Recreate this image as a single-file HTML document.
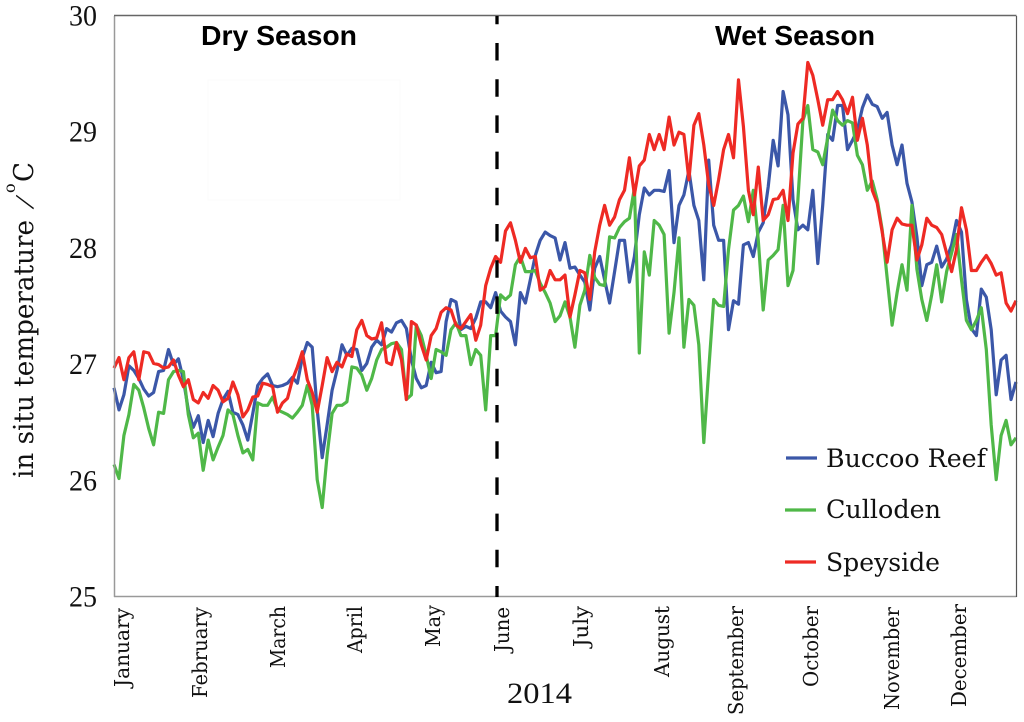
<!DOCTYPE html>
<html lang="en">
<head>
<meta charset="utf-8">
<title>In situ temperature 2014</title>
<style>
html,body{margin:0;padding:0;background:#fff;}
svg{display:block;}
text{fill:#111;}
.serif{font-family:"DejaVu Serif","Liberation Serif",serif;}
.tick{font-family:"Liberation Serif",serif;font-size:29.5px;}
.season{font-family:"Liberation Sans",sans-serif;font-weight:bold;font-size:28px;fill:#000;}
</style>
</head>
<body>
<svg id="chart" width="1024" height="722" viewBox="0 0 1024 722" xmlns="http://www.w3.org/2000/svg">
  <rect x="0" y="0" width="1024" height="722" fill="#fff"/>
  <rect x="208" y="80" width="192" height="120" fill="none" stroke="#fbfbfb" stroke-width="1"/>
  <g id="series-layer"></g>
  <path d="M114.5 597V16" stroke="#999" stroke-width="1.5" fill="none"/>
  <path d="M114 596.5H1016.5" stroke="#999" stroke-width="1.5" fill="none"/>
  <path d="M114 15.5H1016.5" stroke="#666" stroke-width="1.5" fill="none"/>
  <path d="M1016.5 16V597" stroke="#555" stroke-width="1.2" fill="none"/>
  <line x1="497" y1="16" x2="497" y2="597" stroke="#000" stroke-width="3.3" stroke-dasharray="17.5 18.7" stroke-dashoffset="9.2"/>
  <text class="season" x="201" y="45" textLength="156" lengthAdjust="spacingAndGlyphs">Dry Season</text>
  <text class="season" x="715" y="45" textLength="160" lengthAdjust="spacingAndGlyphs">Wet Season</text>
  <g id="y-ticks"></g>
  <g class="serif" transform="translate(33,478) rotate(-90)">
    <text x="0" y="0" font-size="27" textLength="258" lengthAdjust="spacingAndGlyphs">in situ temperature</text>
    <text transform="translate(276,-8) rotate(18)" y="10" text-anchor="middle" font-family="'Liberation Serif',serif" font-size="31">/</text>
    <text x="285" y="-18" font-size="16">o</text>
    <text x="296" y="0" font-size="27" textLength="20" lengthAdjust="spacingAndGlyphs">C</text>
  </g>
  <g class="serif" font-size="20.5">
    <text transform="translate(129,608) rotate(-90)" text-anchor="end" textLength="79" lengthAdjust="spacingAndGlyphs">January</text>
    <text transform="translate(207,607) rotate(-90)" text-anchor="end" textLength="91" lengthAdjust="spacingAndGlyphs">February</text>
    <text transform="translate(285,606) rotate(-90)" text-anchor="end" textLength="62" lengthAdjust="spacingAndGlyphs">March</text>
    <text transform="translate(362,606) rotate(-90)" text-anchor="end" textLength="47" lengthAdjust="spacingAndGlyphs">April</text>
    <text transform="translate(440,605) rotate(-90)" text-anchor="end" textLength="42" lengthAdjust="spacingAndGlyphs">May</text>
    <text transform="translate(509,607) rotate(-90)" text-anchor="end" textLength="45" lengthAdjust="spacingAndGlyphs">June</text>
    <text transform="translate(588,606) rotate(-90)" text-anchor="end" textLength="41" lengthAdjust="spacingAndGlyphs">July</text>
    <text transform="translate(669,606) rotate(-90)" text-anchor="end" textLength="71" lengthAdjust="spacingAndGlyphs">August</text>
    <text transform="translate(743,606) rotate(-90)" text-anchor="end" textLength="109" lengthAdjust="spacingAndGlyphs">September</text>
    <text transform="translate(818,606) rotate(-90)" text-anchor="end" textLength="81" lengthAdjust="spacingAndGlyphs">October</text>
    <text transform="translate(899,607) rotate(-90)" text-anchor="end" textLength="103" lengthAdjust="spacingAndGlyphs">November</text>
    <text transform="translate(966,604) rotate(-90)" text-anchor="end" textLength="103" lengthAdjust="spacingAndGlyphs">December</text>
  </g>
  <text x="507" y="703" font-family="'Liberation Serif',serif" font-size="29.5" textLength="65" lengthAdjust="spacingAndGlyphs">2014</text>
  <g>
    <line x1="786" y1="458" x2="817" y2="458" stroke="#3b57a8" stroke-width="3.2"/>
    <text class="serif" x="826" y="467" font-size="25" textLength="160" lengthAdjust="spacingAndGlyphs">Buccoo Reef</text>
    <line x1="785" y1="510" x2="816" y2="510" stroke="#4fb848" stroke-width="3.2"/>
    <text class="serif" x="826" y="518" font-size="25" textLength="115" lengthAdjust="spacingAndGlyphs">Culloden</text>
    <line x1="785" y1="562" x2="816" y2="562" stroke="#ee2a24" stroke-width="3.2"/>
    <text class="serif" x="826" y="571" font-size="25" textLength="114" lengthAdjust="spacingAndGlyphs">Speyside</text>
  </g>
</svg>
<script>
const yTickValues = [25, 26, 27, 28, 29, 30];
const sampleStepDays = 2;
const buccooReef = [26.80,26.61,26.74,26.99,26.95,26.88,26.79,26.73,26.76,26.94,26.95,27.13,27.00,27.05,26.87,26.61,26.46,26.56,26.33,26.52,26.38,26.58,26.70,26.77,26.59,26.57,26.48,26.35,26.58,26.82,26.88,26.92,26.82,26.81,26.82,26.84,26.89,26.84,27.06,27.19,27.15,26.61,26.20,26.48,26.78,26.95,27.17,27.08,27.14,27.13,26.95,27.01,27.15,27.21,27.17,27.31,27.28,27.36,27.38,27.31,27.04,26.88,26.80,26.82,27.02,26.93,26.94,27.37,27.56,27.54,27.30,27.33,27.31,27.40,27.54,27.54,27.49,27.62,27.46,27.41,27.37,27.17,27.62,27.53,27.73,27.94,28.07,28.14,28.11,28.09,27.90,28.05,27.83,27.84,27.77,27.71,27.47,27.83,27.93,27.73,27.53,27.80,28.07,28.07,27.71,27.93,28.29,28.52,28.46,28.50,28.50,28.49,28.67,28.05,28.37,28.46,28.67,28.37,28.24,27.73,28.76,28.20,28.07,28.07,27.30,27.55,27.52,28.03,28.05,27.93,28.14,28.22,28.53,28.93,28.71,29.35,29.15,28.42,28.16,28.20,28.16,28.50,27.87,28.37,28.98,28.93,29.23,29.23,28.85,28.93,29.02,29.21,29.32,29.24,29.22,29.12,29.17,28.89,28.72,28.89,28.56,28.40,28.10,27.68,27.86,27.88,28.02,27.84,27.91,28.03,28.24,28.14,27.56,27.31,27.25,27.65,27.58,27.30,26.74,27.04,27.08,26.70,26.85];
const culloden = [26.14,26.02,26.39,26.57,26.83,26.78,26.63,26.45,26.31,26.59,26.58,26.87,26.94,26.95,26.94,26.57,26.37,26.41,26.09,26.35,26.18,26.29,26.39,26.61,26.57,26.39,26.24,26.27,26.18,26.67,26.65,26.65,26.72,26.61,26.59,26.57,26.54,26.59,26.65,26.82,26.65,26.01,25.77,26.22,26.58,26.65,26.65,26.68,26.98,26.97,26.91,26.78,26.88,27.04,27.13,27.15,27.18,27.19,27.13,26.70,26.74,27.34,27.25,27.08,26.88,27.13,27.11,27.08,27.30,27.36,27.25,27.25,27.00,27.13,27.08,26.61,27.25,27.25,27.60,27.56,27.60,27.86,27.93,27.80,27.80,27.81,27.70,27.62,27.53,27.37,27.42,27.54,27.41,27.15,27.51,27.64,27.94,27.75,27.69,27.68,28.10,28.09,28.18,28.23,28.26,28.52,27.10,27.97,27.77,28.24,28.20,28.12,27.27,27.62,28.09,27.15,27.56,27.51,27.17,26.33,26.95,27.56,27.51,27.50,27.99,28.33,28.37,28.45,28.23,28.50,28.07,27.47,27.90,27.94,27.99,28.37,27.68,27.81,28.42,29.10,29.23,28.85,28.83,28.72,28.95,29.19,29.10,29.06,29.10,29.08,28.80,28.72,28.50,28.58,28.42,28.16,27.75,27.34,27.62,27.86,27.64,28.37,27.82,27.56,27.38,27.60,27.86,27.54,27.80,27.96,28.12,27.73,27.38,27.30,27.38,27.49,27.13,26.48,26.01,26.39,26.52,26.31,26.37];
const speyside = [26.97,27.06,26.87,27.06,27.11,26.87,27.11,27.10,27.01,27.00,26.97,26.98,27.04,26.91,26.81,26.87,26.70,26.67,26.76,26.71,26.82,26.78,26.68,26.71,26.85,26.74,26.55,26.61,26.72,26.73,26.84,26.83,26.81,26.59,26.67,26.71,26.87,26.98,27.11,26.87,26.76,26.59,26.82,27.06,26.94,27.02,26.98,27.09,27.07,27.30,27.38,27.25,27.22,27.23,27.36,27.02,27.00,27.19,27.04,26.70,27.37,27.34,27.17,27.04,27.25,27.31,27.45,27.49,27.47,27.34,27.31,27.37,27.43,27.21,27.34,27.68,27.83,27.93,27.88,28.15,28.22,28.07,27.88,28.00,27.92,27.93,27.64,27.67,27.81,27.73,27.73,27.77,27.41,27.60,27.81,27.79,27.56,27.97,28.20,28.37,28.20,28.27,28.42,28.50,28.78,28.46,28.71,28.76,28.98,28.85,28.98,28.85,29.13,28.89,29.00,28.98,28.59,29.06,29.16,28.89,28.55,28.37,28.59,28.85,28.98,28.78,29.45,29.05,28.50,28.29,28.70,28.24,28.29,28.42,28.43,28.50,28.24,28.82,29.07,29.12,29.60,29.49,29.28,29.06,29.28,29.28,29.35,29.28,29.16,29.30,28.93,29.12,28.89,28.50,28.39,28.14,27.88,28.16,28.26,28.21,28.20,28.20,27.90,28.03,28.26,28.20,28.18,28.12,27.96,27.80,27.99,28.35,28.16,27.81,27.81,27.88,27.94,27.87,27.77,27.79,27.53,27.46,27.55];

const SVG_NS = 'http://www.w3.org/2000/svg';
const plotLeft = 114, plotRight = 1016, plotTop = 16, plotBottom = 597;
const yMin = yTickValues[0], yMax = yTickValues[yTickValues.length - 1];
const lastDay = (speyside.length - 1) * sampleStepDays;

function xScale(day) {
  return plotLeft + (day / lastDay) * (plotRight - plotLeft);
}
function yScale(temp) {
  return plotBottom - ((temp - yMin) / (yMax - yMin)) * (plotBottom - plotTop);
}
function linePoints(values) {
  return values.map(function (v, i) {
    return xScale(i * sampleStepDays).toFixed(1) + ',' + yScale(v).toFixed(1);
  }).join(' ');
}

const seriesLayer = document.getElementById('series-layer');

const buccooLine = document.createElementNS(SVG_NS, 'polyline');


buccooLine.setAttribute('points', linePoints(buccooReef));
buccooLine.setAttribute('fill', 'none');
buccooLine.setAttribute('stroke', '#3b57a8');
buccooLine.setAttribute('stroke-width', '3.2');
buccooLine.setAttribute('stroke-linejoin', 'round');
seriesLayer.appendChild(buccooLine);

const cullodenLine = document.createElementNS(SVG_NS, 'polyline');


cullodenLine.setAttribute('points', linePoints(culloden));
cullodenLine.setAttribute('fill', 'none');
cullodenLine.setAttribute('stroke', '#4fb848');
cullodenLine.setAttribute('stroke-width', '3.2');
cullodenLine.setAttribute('stroke-linejoin', 'round');
seriesLayer.appendChild(cullodenLine);

const speysideLine = document.createElementNS(SVG_NS, 'polyline');


speysideLine.setAttribute('points', linePoints(speyside));
speysideLine.setAttribute('fill', 'none');
speysideLine.setAttribute('stroke', '#ee2a24');
speysideLine.setAttribute('stroke-width', '3.2');
speysideLine.setAttribute('stroke-linejoin', 'round');
seriesLayer.appendChild(speysideLine);

const yTicks = document.getElementById('y-ticks');
yTickValues.forEach(function (t) {
  const label = document.createElementNS(SVG_NS, 'text');
  
  
  label.setAttribute('class', 'tick');
  label.setAttribute('x', '69');
  label.setAttribute('y', (yScale(t) + 9.5).toFixed(1));
  label.setAttribute('textLength', '28');
  label.setAttribute('lengthAdjust', 'spacingAndGlyphs');
  label.textContent = String(t);
  yTicks.appendChild(label);
});
</script>
</body>
</html>
